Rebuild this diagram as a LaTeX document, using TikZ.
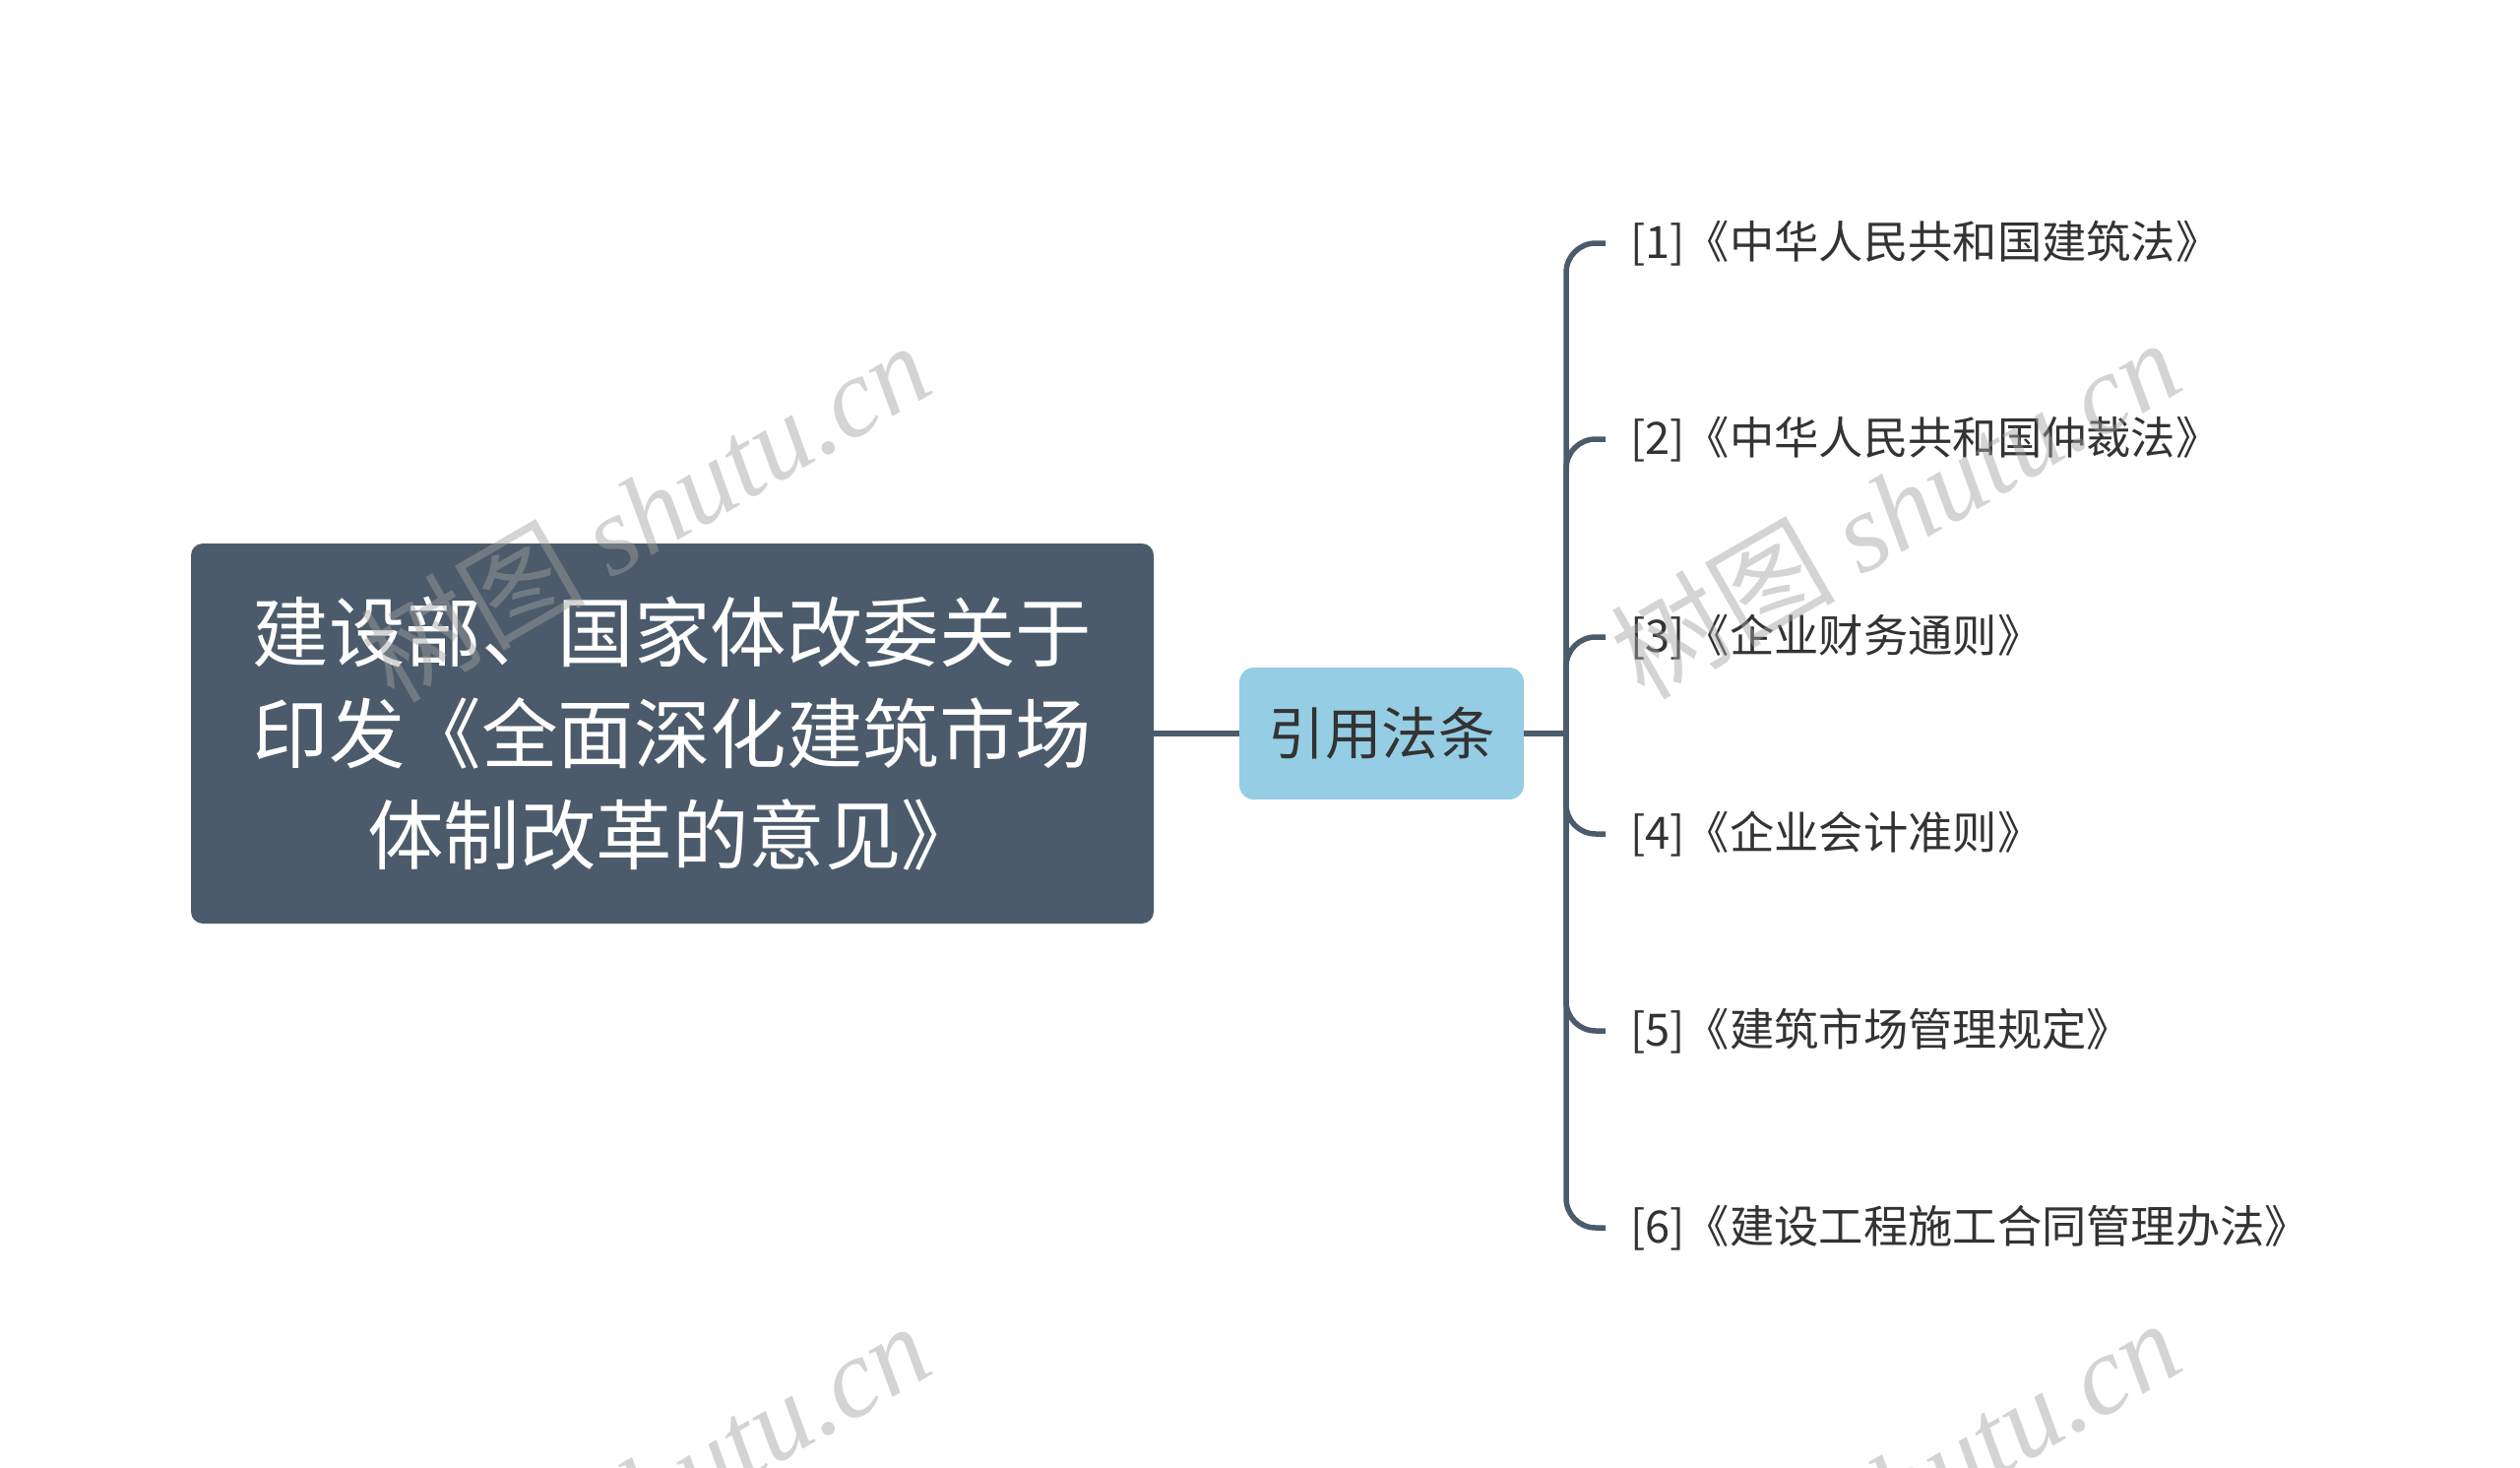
\documentclass[tikz,border=0pt]{standalone}
\usepackage{fontspec}
\setmainfont{Noto Sans CJK SC}
\newfontfamily\wmlatin{Liberation Serif}
\newfontfamily\wmcjk{Noto Sans CJK SC}
\definecolor{slate}{HTML}{4B5B6B}
\definecolor{lblue}{HTML}{95CDE4}
\definecolor{txt}{HTML}{333333}
\definecolor{wm}{HTML}{A0A0A0}
\begin{document}
\begin{tikzpicture}[x=1pt,y=-1pt,
  conn/.style={draw=slate, line width=5.5pt},
  rootbox/.style={fill=slate, rounded corners=12pt, text=white, align=center,
    minimum width=978pt, minimum height=386pt, inner sep=0pt,
    font=\fontsize{77.5}{103}\selectfont},
  midbox/.style={fill=lblue, rounded corners=15pt, text=txt,
    minimum width=289pt, minimum height=134pt, inner sep=0pt,
    font=\fontsize{57.5}{70}\selectfont},
  leaf/.style={anchor=west, text=txt, inner xsep=25pt, inner ysep=0pt,
    font=\fontsize{45.3}{55}\selectfont},
  wmark/.style={text=wm, opacity=0.45, rotate=30, inner sep=0pt,
    font=\fontsize{114}{120}\selectfont}
]
\useasboundingbox (0,0) rectangle (2560,1491);
\clip (0,0) rectangle (2560,1491);

\node[rootbox] (root) at (683,745) {建设部、国家体改委关于\\印发《全面深化建筑市场\\体制改革的意见》};
\node[midbox] (mid) at (1403.5,745) {引用法条};
\coordinate (bar) at (1591,745);

\node[leaf] (c1) at (1631,247) {[1]《中华人民共和国建筑法》};
\node[leaf] (c2) at (1631,446) {[2]《中华人民共和国仲裁法》};
\node[leaf] (c3) at (1631,647) {[3]《企业财务通则》};
\node[leaf] (c4) at (1631,847) {[4]《企业会计准则》};
\node[leaf] (c5) at (1631,1047) {[5]《建筑市场管理规定》};
\node[leaf] (c6) at (1631,1247) {[6]《建设工程施工合同管理办法》};

\draw[conn] (root.east) -- (mid.west);
\draw[conn] (mid.east) -- (bar);
\foreach \i in {1,...,6}{
  \draw[conn, rounded corners=30pt] (bar) |- (c\i.west);
}

\node[wmark] (w1) at (655,519) {{\wmcjk 树图} {\wmlatin\itshape shutu.cn}};
\node[wmark] (w2) at (1925,516) {{\wmcjk 树图} {\wmlatin\itshape shutu.cn}};
\node[wmark] (w3) at (655,1515) {{\wmcjk 树图} {\wmlatin\itshape shutu.cn}};
\node[wmark] (w4) at (1925,1512) {{\wmcjk 树图} {\wmlatin\itshape shutu.cn}};
\end{tikzpicture}
\end{document}
